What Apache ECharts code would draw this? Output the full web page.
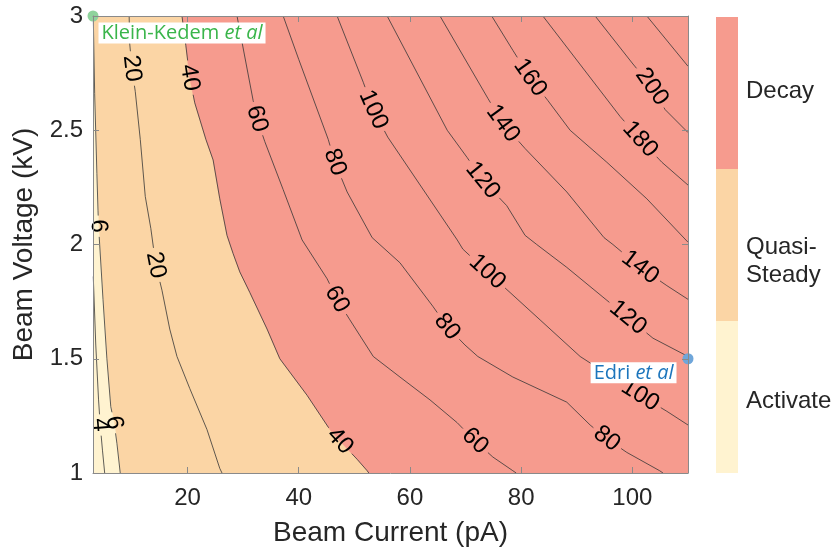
<!DOCTYPE html>
<html>
<head>
<meta charset="utf-8">
<script src="https://cdn.jsdelivr.net/npm/echarts@6/dist/echarts.min.js"></script>
<style>
  html, body { margin: 0; padding: 0; background: #ffffff; }
  #chart { width: 836px; height: 552px; }
</style>
</head>
<body>
<div id="chart"></div>
<script>
// ---- axis ranges and ticks ----
const currentRange = [3, 110];          // Beam Current (pA)
const voltageRange = [1, 3];            // Beam Voltage (kV)
const currentTicks = [20, 40, 60, 80, 100];
const voltageTicks = [1, 1.5, 2, 2.5, 3];

// ---- contour paths, points are [current pA, voltage kV] ----
const c4 = [[3.05, 1.86], [3.5, 1.56], [4.0, 1.32], [4.3, 1.21], [4.7, 1.10], [5.1, 1.0]];
const c6 = [[3.05, 3.0], [3.3, 2.66], [3.7, 2.31], [3.9, 2.15], [4.0, 2.08], [4.2, 2.0], [4.8, 1.76], [5.5, 1.50], [6.2, 1.29], [6.8, 1.22], [7.3, 1.13], [7.9, 1.0]];
const c20 = [[9.5, 3.0], [9.6, 2.88], [10.0, 2.77], [10.6, 2.67], [11.5, 2.46], [12.4, 2.21], [13.4, 2.07], [14.3, 1.91], [15.4, 1.80], [16.8, 1.63], [18.1, 1.51], [20.4, 1.37], [23.5, 1.19], [25.8, 1.02], [26.2, 1.0]];
const c40 = [[19.0, 3.0], [19.7, 2.87], [20.4, 2.73], [21.3, 2.62], [23.3, 2.46], [24.6, 2.37], [25.8, 2.20], [27.1, 2.04], [28.2, 1.96], [29.4, 1.88], [31.2, 1.79], [34.3, 1.63], [36.6, 1.50], [41.5, 1.34], [45.6, 1.19], [47.4, 1.14], [50.5, 1.06], [52.3, 1.01], [52.6, 1.0]];
const c60 = [[28.9, 3.0], [31.8, 2.63], [32.5, 2.55], [33.9, 2.45], [37.2, 2.24], [40.6, 2.02], [45.1, 1.85], [46.9, 1.76], [49.2, 1.67], [53.4, 1.51], [58.2, 1.42], [63.6, 1.32], [68.5, 1.22], [71.7, 1.14], [74.9, 1.07], [78.5, 1.01], [79.1, 1.0]];
const c80 = [[37.2, 3.0], [40.0, 2.81], [45.3, 2.46], [46.5, 2.36], [48.7, 2.23], [53.2, 2.03], [58.2, 1.92], [64.1, 1.73], [66.7, 1.64], [69.9, 1.56], [72.2, 1.51], [78.5, 1.42], [88.2, 1.31], [92.4, 1.21], [95.4, 1.15], [99.0, 1.09], [104.9, 1.01], [105.5, 1.0]];
const c100 = [[46.9, 3.0], [51.6, 2.71], [53.4, 2.59], [56.0, 2.47], [68.5, 2.02], [69.5, 1.98], [73.9, 1.88], [78.0, 1.79], [83.4, 1.67], [90.6, 1.51], [101.4, 1.34], [106.2, 1.27], [110, 1.21]];
const c120 = [[55.9, 3.0], [66.7, 2.50], [70.3, 2.38], [73.1, 2.28], [77.4, 2.17], [80.7, 2.04], [82.8, 2.0], [88.2, 1.90], [94.7, 1.77], [99.2, 1.68], [103.7, 1.59], [110, 1.51]];
const c140 = [[65.4, 3.0], [74.0, 2.64], [76.7, 2.53], [80.7, 2.42], [88.2, 2.23], [94.9, 2.03], [96.5, 2.0], [101.4, 1.90], [106.2, 1.82], [110, 1.76]];
const c160 = [[74.7, 3.0], [78.5, 2.85], [81.6, 2.73], [84.8, 2.63], [88.8, 2.50], [95.4, 2.36], [102.6, 2.20], [110, 2.01]];
const c180 = [[83.9, 3.0], [97.8, 2.56], [101.4, 2.46], [105.3, 2.36], [110, 2.26]];
const c200 = [[93.3, 3.0], [100.1, 2.79], [103.5, 2.69], [105.9, 2.59], [110, 2.49]];
const c220 = [[102.6, 3.0], [110, 2.78]];

const contourLevels = [4, 6, 20, 40, 60, 80, 100, 120, 140, 160, 180, 200, 220];
const contourPaths = [c4, c6, c20, c40, c60, c80, c100, c120, c140, c160, c180, c200, c220];
// where each level is labelled, along its path
const contourLabelAt = [
  [[4.3, 1.21]],
  [[4.0, 2.08], [6.8, 1.22]],
  [[10.0, 2.77], [14.3, 1.91]],
  [[20.4, 2.73], [47.4, 1.14]],
  [[32.5, 2.55], [46.9, 1.76], [71.7, 1.14]],
  [[46.5, 2.36], [66.7, 1.64], [95.4, 1.15]],
  [[53.4, 2.59], [73.9, 1.88], [101.4, 1.34]],
  [[73.1, 2.28], [99.2, 1.68]],
  [[76.7, 2.53], [101.4, 1.90]],
  [[81.6, 2.73]],
  [[101.4, 2.46]],
  [[103.5, 2.69]],
  []
];

// ---- regimes: Activate below the 6 contour, Decay above the 40 contour ----
const regimeNames = ['Decay', 'Quasi-\nSteady', 'Activate'];
const regimeColors = ['#F69B8E', '#FBD5A5', '#FFF3D0'];

// ---- reference studies ----
const studyNames = ['Klein-Kedem', 'Edri'];
const studyCurrent = [3, 110];
const studyVoltage = [3, 1.5];

// ---- geometry helpers working in pixel space ----
function pointAt(pts, cum, s) {
  const n = pts.length;
  if (s <= 0) return pts[0].slice();
  if (s >= cum[n - 1]) return pts[n - 1].slice();
  let k = 1;
  while (cum[k] < s) k++;
  const seg = cum[k] - cum[k - 1] || 1;
  const t = (s - cum[k - 1]) / seg;
  return [pts[k - 1][0] + t * (pts[k][0] - pts[k - 1][0]),
          pts[k - 1][1] + t * (pts[k][1] - pts[k - 1][1])];
}
function slicePath(pts, cum, a, b) {
  const out = [pointAt(pts, cum, a)];
  for (let k = 0; k < pts.length; k++) {
    if (cum[k] > a && cum[k] < b) out.push(pts[k]);
  }
  out.push(pointAt(pts, cum, b));
  return out;
}

const LABEL_FONT = 24;
const FONT_FAMILY = '"Liberation Sans", Arial, Helvetica, sans-serif';
const TEXT_COLOR = '#262626';
const AXIS_COLOR = '#8a8a8a';

function regionSeries(name, polygon, color) {
  return {
    type: 'custom',
    name: name,
    coordinateSystem: 'cartesian2d',
    silent: true,
    clip: true,
    z: 1,
    data: [[currentRange[0], voltageRange[0]]],
    renderItem: function (params, api) {
      return {
        type: 'polygon',
        shape: { points: polygon.map(function (p) { return api.coord(p); }) },
        style: { fill: color, stroke: color, lineWidth: 0.6 }
      };
    }
  };
}

const fullBox = [[currentRange[0], voltageRange[0]], [currentRange[0], voltageRange[1]],
                 [currentRange[1], voltageRange[1]], [currentRange[1], voltageRange[0]]];
const decayArea = c40.concat([[currentRange[1], voltageRange[0]], [currentRange[1], voltageRange[1]]]);
const activateArea = [[currentRange[0], voltageRange[1]]].concat(c6, [[currentRange[0], voltageRange[0]]]);

// contour lines, broken where each inline level label sits
const contourSeries = {
  type: 'custom',
  name: 'contours',
  coordinateSystem: 'cartesian2d',
  silent: true,
  clip: false,
  z: 3,
  data: contourPaths.map(function (p, i) { return [p[0][0], p[0][1], i]; }),
  renderItem: function (params, api) {
    const i = params.dataIndex;
    const pts = contourPaths[i].map(function (p) { return api.coord(p); });
    const cum = [0];
    for (let k = 1; k < pts.length; k++) {
      cum.push(cum[k - 1] + Math.hypot(pts[k][0] - pts[k - 1][0], pts[k][1] - pts[k - 1][1]));
    }
    const total = cum[cum.length - 1];
    const text = String(contourLevels[i]);
    const half = text.length * 0.556 * LABEL_FONT / 2 + 4;
    const gaps = [];
    const children = [];
    contourLabelAt[i].forEach(function (a) {
      const q = api.coord(a);
      let best = null;
      for (let k = 1; k < pts.length; k++) {
        const ax = pts[k - 1][0], ay = pts[k - 1][1];
        const dx = pts[k][0] - ax, dy = pts[k][1] - ay;
        const L2 = dx * dx + dy * dy;
        let t = L2 ? ((q[0] - ax) * dx + (q[1] - ay) * dy) / L2 : 0;
        t = Math.max(0, Math.min(1, t));
        const d = Math.hypot(q[0] - (ax + t * dx), q[1] - (ay + t * dy));
        if (!best || d < best.d) best = { d: d, s: cum[k - 1] + t * Math.sqrt(L2) };
      }
      gaps.push([best.s - half, best.s + half]);
      const p0 = pointAt(pts, cum, best.s - half);
      const p1 = pointAt(pts, cum, best.s + half);
      let ang = Math.atan2(p1[1] - p0[1], p1[0] - p0[0]);
      if (ang > Math.PI / 2) ang -= Math.PI;
      if (ang <= -Math.PI / 2) ang += Math.PI;
      const c = pointAt(pts, cum, best.s);
      children.push({
        type: 'text',
        x: c[0], y: c[1],
        rotation: -ang,
        z2: 5,
        style: {
          text: text, x: 0, y: 0,
          align: 'center', verticalAlign: 'middle',
          font: LABEL_FONT + 'px ' + FONT_FAMILY,
          fill: '#000000'
        }
      });
    });
    gaps.sort(function (a, b) { return a[0] - b[0]; });
    let s = 0;
    const pieces = [];
    gaps.forEach(function (g) {
      if (g[0] > s) pieces.push([s, g[0]]);
      s = Math.max(s, g[1]);
    });
    if (s < total) pieces.push([s, total]);
    pieces.forEach(function (pc) {
      children.push({
        type: 'polyline',
        shape: { points: slicePath(pts, cum, pc[0], pc[1]) },
        style: { stroke: '#363636', lineWidth: 0.8, fill: null }
      });
    });
    return { type: 'group', children: children };
  }
};

const studyColors = ['#39B54A', '#1C75BC'];
const studyDotColors = ['#8FD39C', '#6FA6DA'];

const studySeries = {
  type: 'scatter',
  name: 'studies',
  clip: false,
  z: 8,
  symbolSize: 11,
  data: studyNames.map(function (n, i) {
    const left = i === 1;
    return {
      value: [studyCurrent[i], studyVoltage[i]],
      itemStyle: { color: studyDotColors[i], opacity: 1 },
      label: {
        show: true,
        position: left ? 'left' : 'right',
        distance: left ? 6 : 0,
        offset: left ? [0, 14] : [0, 17],
        formatter: '{n|' + n + ' }{i|et al}',
        backgroundColor: '#ffffff',
        padding: [1, 3, 0, 3],
        rich: {
          n: { fontFamily: '"Open Sans", sans-serif', fontSize: 20, color: studyColors[i] },
          i: { fontFamily: '"Open Sans", sans-serif', fontSize: 20, fontStyle: 'italic', color: studyColors[i] }
        }
      }
    };
  })
};

function axisBase(extra) {
  return Object.assign({
    type: 'value',
    z: 10,
    splitLine: { show: false },
    axisLine: { show: true, onZero: false, lineStyle: { color: AXIS_COLOR, width: 1 } },
    axisTick: { show: true, inside: true, length: 6, lineStyle: { color: AXIS_COLOR } }
  }, extra);
}

// colour bar legend text centres
const regimeLabelY = [91, 261, 401];

const option = {
  animation: false,
  backgroundColor: '#ffffff',
  grid: { left: 93, top: 16, width: 595, height: 458 },
  xAxis: [
    axisBase({
      min: currentRange[0], max: currentRange[1], position: 'bottom',
      axisTick: { show: true, inside: true, length: 6, customValues: currentTicks, lineStyle: { color: AXIS_COLOR } },
      axisLabel: { customValues: currentTicks, margin: 13, fontSize: 24, color: TEXT_COLOR, fontFamily: FONT_FAMILY },
      name: 'Beam Current (pA)', nameLocation: 'middle', nameGap: 46,
      nameTextStyle: { fontSize: 28, color: TEXT_COLOR, fontFamily: FONT_FAMILY }
    }),
    axisBase({
      min: currentRange[0], max: currentRange[1], position: 'top',
      axisTick: { show: true, inside: true, length: 6, customValues: currentTicks, lineStyle: { color: AXIS_COLOR } },
      axisLabel: { show: false }
    })
  ],
  yAxis: [
    axisBase({
      min: voltageRange[0], max: voltageRange[1], interval: 0.5, position: 'left',
      axisLabel: { margin: 10, fontSize: 24, color: TEXT_COLOR, fontFamily: FONT_FAMILY },
      name: 'Beam Voltage (kV)', nameLocation: 'middle', nameGap: 48,
      nameTextStyle: { fontSize: 28, color: TEXT_COLOR, fontFamily: FONT_FAMILY }
    }),
    axisBase({
      min: voltageRange[0], max: voltageRange[1], interval: 0.5, position: 'right',
      axisLabel: { show: false }
    })
  ],
  series: [
    regionSeries('Quasi-Steady', fullBox, regimeColors[1]),
    regionSeries('Decay', decayArea, regimeColors[0]),
    regionSeries('Activate', activateArea, regimeColors[2]),
    contourSeries,
    studySeries
  ],
  graphic: regimeNames.map(function (n, i) {
    return {
      type: 'rect', z: 1,
      shape: { x: 716, y: 17 + i * 152, width: 22, height: 152 },
      style: { fill: regimeColors[i] }
    };
  }).concat(regimeNames.map(function (n, i) {
    return {
      type: 'text', z: 1,
      x: 746, y: regimeLabelY[i],
      style: {
        text: n, font: '24px ' + FONT_FAMILY, fill: TEXT_COLOR,
        align: 'left', verticalAlign: 'middle', lineHeight: 28
      }
    };
  }))
};

const chart = echarts.init(document.getElementById('chart'), null, { renderer: 'canvas' });
chart.setOption(option);
</script>
</body>
</html>
